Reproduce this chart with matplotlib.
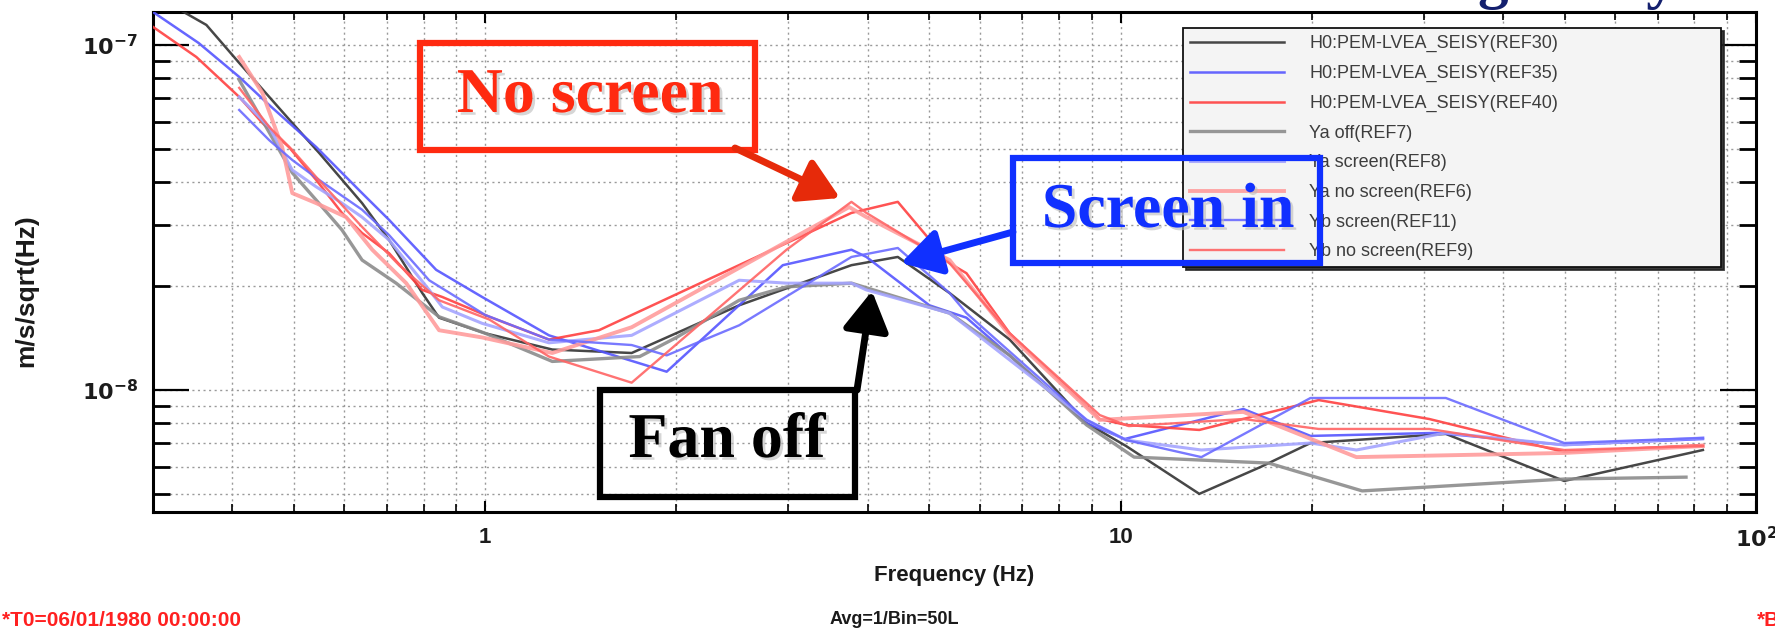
import numpy as np
import matplotlib
matplotlib.use('Agg')
import matplotlib.pyplot as plt
from matplotlib.patches import Rectangle, FancyArrowPatch
from matplotlib.ticker import FixedLocator, FixedFormatter, NullFormatter
import matplotlib.patheffects as pe

plt.rcParams['font.family'] = ['Liberation Sans', 'DejaVu Sans']

# amplitude spectral densities, values in units of 1e-8 m/s/sqrt(Hz)
ref30_f = [0.30, 0.364, 0.41, 0.497, 0.548, 0.64, 0.706, 0.796, 0.846, 1.0, 1.275, 1.70, 2.51,
           3.77, 4.46, 5.38, 6.69, 8.84, 10.2, 13.3, 16.6, 19.9, 32.5, 49.9, 82.5]
ref30_a = [14.0, 11.43, 8.87, 5.94, 4.86, 3.48, 2.72, 1.91, 1.62, 1.46, 1.31, 1.28, 1.76,
           2.30, 2.43, 1.91, 1.40, 0.802, 0.688, 0.500, 0.598, 0.702, 0.746, 0.545, 0.670]

ref35_f = [0.30, 0.354, 0.41, 0.457, 0.542, 0.64, 0.706, 0.837, 0.989, 1.26, 1.93, 2.94, 3.77,
           3.98, 5.0, 5.72, 8.84, 10.15, 15.6, 19.9, 31.4, 49.9, 82.5]
ref35_a = [12.46, 10.13, 8.08, 6.70, 5.06, 3.72, 3.11, 2.23, 1.86, 1.44, 1.13, 2.30, 2.55,
           2.43, 1.76, 1.62, 0.802, 0.721, 0.881, 0.736, 0.751, 0.693, 0.721]

ref40_f = [0.30, 0.351, 0.41, 0.446, 0.491, 0.542, 0.595, 0.64, 0.706, 0.796, 0.856, 1.015, 1.26,
           1.51, 3.77, 4.46, 5.38, 5.72, 6.69, 9.27, 10.2, 13.3, 20.5, 30.6, 49.9, 82.5]
ref40_a = [11.28, 9.23, 7.07, 5.94, 5.06, 4.06, 3.26, 2.85, 2.49, 1.95, 1.86, 1.63, 1.40,
           1.49, 3.26, 3.51, 2.33, 2.18, 1.46, 0.824, 0.792, 0.766, 0.935, 0.824, 0.661, 0.693]

ya_off_f = [0.41, 0.497, 0.542, 0.595, 0.64, 0.724, 0.846, 1.0, 1.275, 1.75, 2.0, 2.51, 2.98,
            3.77, 5.38, 6.69, 8.84, 10.5, 17.1, 24.0, 49.9, 77.6]
ya_off_a = [7.92, 4.26, 3.55, 2.91, 2.38, 2.04, 1.63, 1.46, 1.21, 1.25, 1.42, 1.82, 1.99,
            2.04, 1.67, 1.26, 0.792, 0.639, 0.614, 0.510, 0.552, 0.559]

ya_scr_f = [0.41, 0.457, 0.497, 0.542, 0.595, 0.64, 0.706, 0.816, 0.856, 0.989, 1.26, 1.70, 2.51,
            2.98, 3.77, 3.98, 5.38, 8.84, 10.2, 13.4, 19.9, 23.5, 32.5, 49.9, 82.5]
ya_scr_a = [7.07, 5.79, 4.34, 3.88, 3.48, 3.17, 2.72, 1.95, 1.74, 1.56, 1.37, 1.44, 2.08,
            2.04, 2.04, 1.95, 1.67, 0.819, 0.716, 0.670, 0.702, 0.670, 0.751, 0.693, 0.726]

ya_noscr_f = [0.41, 0.446, 0.479, 0.497, 0.542, 0.604, 0.664, 0.751, 0.846, 0.989, 1.275, 1.70,
              3.74, 3.98, 5.38, 6.69, 9.27, 15.6, 23.5, 49.9, 82.5]
ya_noscr_a = [9.23, 7.26, 5.06, 3.72, 3.48, 3.17, 2.55, 2.04, 1.49, 1.42, 1.28, 1.52,
              3.39, 3.17, 2.38, 1.44, 0.819, 0.864, 0.639, 0.657, 0.688]

yb_scr_f = [0.41, 0.457, 0.497, 0.548, 0.64, 0.706, 0.816, 1.0, 1.26, 1.70, 1.93, 2.51, 3.77,
            4.46, 5.38, 5.72, 8.84, 10.2, 13.4, 19.9, 32.5, 49.9, 82.5]
yb_scr_a = [6.48, 5.30, 4.64, 4.06, 3.33, 2.81, 2.08, 1.65, 1.40, 1.35, 1.26, 1.54, 2.43,
            2.58, 1.91, 1.67, 0.819, 0.716, 0.639, 0.948, 0.948, 0.702, 0.726]

yb_noscr_f = [0.41, 0.457, 0.497, 0.542, 0.64, 0.732, 0.846, 1.015, 1.26, 1.70, 2.98, 3.77,
              3.98, 5.38, 6.69, 9.27, 10.3, 15.6, 20.5, 30.6, 49.9, 82.5]
yb_noscr_a = [7.51, 5.79, 4.96, 4.14, 2.97, 2.30, 1.82, 1.60, 1.25, 1.05, 2.55, 3.51,
              3.26, 2.33, 1.46, 0.846, 0.786, 0.824, 0.771, 0.771, 0.670, 0.688]

labels = ['H0:PEM-LVEA_SEISY(REF30)', 'H0:PEM-LVEA_SEISY(REF35)', 'H0:PEM-LVEA_SEISY(REF40)',
          'Ya off(REF7)', 'Ya screen(REF8)', 'Ya no screen(REF6)', 'Yb screen(REF11)',
          'Yb no screen(REF9)']

W, H = 1775, 633


def fx(x):
    return x / W


def fy(y):
    return 1 - y / H


fig = plt.figure(figsize=(W / 100, H / 100), dpi=100)
ax = fig.add_axes([fx(153), fy(512), (1756 - 153) / W, (512 - 12) / H])

series = [
    (ref30_f, ref30_a, '#333333', 1.8),
    (ref35_f, ref35_a, '#5555ff', 1.8),
    (ref40_f, ref40_a, '#ff4040', 1.8),
    (ya_off_f, ya_off_a, '#8c8c8c', 2.4),
    (ya_scr_f, ya_scr_a, '#a4a4ff', 2.2),
    (ya_noscr_f, ya_noscr_a, '#ff9c9c', 2.8),
    (yb_scr_f, yb_scr_a, '#6a6aff', 1.7),
    (yb_noscr_f, yb_noscr_a, '#ff6464', 1.7),
]
for (f, a, c, lw), lab in zip(series, labels):
    ax.plot(f, np.array(a) * 1e-8, color=c, lw=lw, alpha=0.9, label=lab, zorder=3)

ax.set_xscale('log')
ax.set_yscale('log')
ax.set_xlim(0.3, 100)
ax.set_ylim(4.43e-9, 1.246e-7)

ax.xaxis.set_major_locator(FixedLocator([1, 10, 100]))
ax.xaxis.set_major_formatter(FixedFormatter(['1', '10', r'$\mathbf{10^{2}}$']))
ax.xaxis.set_minor_locator(FixedLocator([m * d for d in (0.1, 1, 10) for m in range(2, 10)]))
ax.xaxis.set_minor_formatter(NullFormatter())
ax.yaxis.set_major_locator(FixedLocator([1e-8, 1e-7]))
ax.yaxis.set_major_formatter(FixedFormatter([r'$\mathbf{10^{-8}}$', r'$\mathbf{10^{-7}}$']))
ax.yaxis.set_minor_locator(FixedLocator([m * d for d in (1e-9, 1e-8) for m in range(2, 10)]))
ax.yaxis.set_minor_formatter(NullFormatter())

ax.tick_params(axis='both', which='both', direction='in', top=True, right=True,
               labelsize=16, labelcolor='#1c1c1c')
ax.tick_params(axis='x', which='major', length=8, width=1.5, pad=11)
ax.tick_params(axis='x', which='minor', length=6, width=1.2)
ax.tick_params(axis='y', which='major', length=26, width=1.6, pad=11)
ax.tick_params(axis='y', which='minor', length=12, width=2.0)
for lbl in ax.get_xticklabels() + ax.get_yticklabels():
    lbl.set_fontweight('bold')
for s in ax.spines.values():
    s.set_linewidth(2.2)

ax.grid(True, which='both', ls=(0, (1.5, 2.5)), color='#9a9a9a', lw=1.0, zorder=0)

ax.set_xlabel('Frequency (Hz)', fontsize=16, fontweight='bold', color='#1a1a1a')
ax.xaxis.set_label_coords(0.5, -(575 - 512) / 500)
ax.xaxis.label.set_va('center')
ax.set_ylabel('m/s/sqrt(Hz)', fontsize=19, fontweight='bold', color='#1a1a1a')
ax.yaxis.set_label_coords((26 - 153) / 1603, (512 - 291) / 500)
ax.yaxis.label.set_va('center')

leg = ax.legend(loc='upper left', bbox_to_anchor=(fx(1183), fy(268), (1721 - 1183) / W, (268 - 28) / H),
                bbox_transform=fig.transFigure, mode='expand', fontsize=13, handlelength=5.2,
                handletextpad=1.4, labelspacing=0.70, borderpad=0.4, borderaxespad=0,
                fancybox=False, facecolor='#f4f4f4', edgecolor='#111111', framealpha=1,
                labelcolor='#3d3d3d', shadow={'color': '#222222', 'alpha': 0.9})
leg.get_frame().set_linewidth(1.3)

# callout boxes
serif = ['Liberation Serif', 'DejaVu Serif']
boxes = [
    ((420, 43, 755, 150), 'No screen', '#ff2a10', (590, 97)),
    ((1013, 158, 1320, 263), 'Screen in', '#1030ff', (1168, 212)),
    ((600, 390, 855, 497), 'Fan off', '#000000', (727, 442)),
]
for (x0, y0, x1, y1), txt, col, (tx, ty) in boxes:
    fig.add_artist(Rectangle((fx(x0), fy(y1)), (x1 - x0) / W, (y1 - y0) / H, transform=fig.transFigure,
                             fill=False, ec=col, lw=4.5, zorder=10))
    fig.text(fx(tx), fy(ty), txt, color=col, fontsize=46, fontweight='bold', family=serif,
             ha='center', va='center', zorder=11,
             path_effects=[pe.SimplePatchShadow(offset=(2, -2), shadow_rgbFace='#bbbbbb', alpha=0.6),
                           pe.Normal()])

arrows = [
    ((735, 148), (840, 198), '#e62a0a'),
    ((1013, 232), (901, 263), '#1030ff'),
    ((857, 390), (872, 291), '#000000'),
]
for (xa, ya), (xb, yb), col in arrows:
    fig.add_artist(FancyArrowPatch((fx(xa), fy(ya)), (fx(xb), fy(yb)), transform=fig.transFigure,
                                   arrowstyle='-|>,head_length=0.6,head_width=0.35', mutation_scale=40,
                                   lw=5, color=col, shrinkA=0, shrinkB=0, zorder=11))

# slide title cut off above the figure
fig.text(fx(1677), 1 + 3 / H, 'ing Study', fontsize=44, fontweight='bold', family=serif,
         color='#14206e', ha='right', va='baseline')

fig.text(fx(2), fy(620), '*T0=06/01/1980 00:00:00', color='#ff2020', fontsize=15, fontweight='bold',
         ha='left', va='center')
fig.text(fx(894), fy(620), 'Avg=1/Bin=50L', color='#1a1a1a', fontsize=13, fontweight='bold',
         ha='center', va='center')
fig.text(fx(1757), fy(620), '*BW=0.25', color='#ff2020', fontsize=15, fontweight='bold',
         ha='left', va='center')

fig.savefig('out.png', dpi=100)
